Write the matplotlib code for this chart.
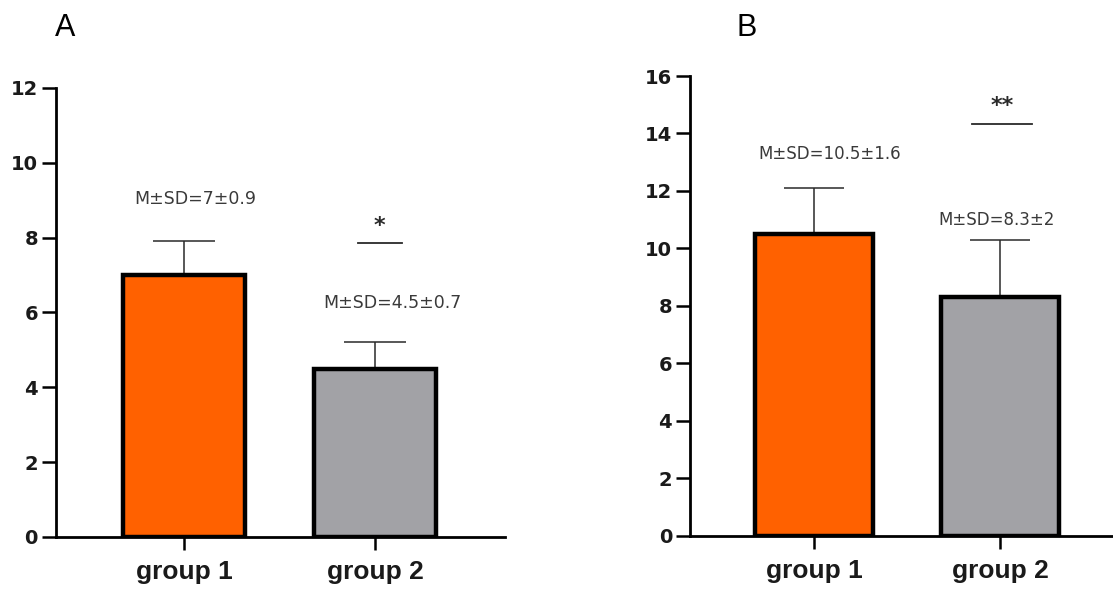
import matplotlib.pyplot as plt

groups = ['group 1', 'group 2']
means_a = [7.0, 4.5]
sd_a = [0.9, 0.7]
means_b = [10.5, 8.3]
sd_b = [1.6, 2.0]
labels_a = ['M±SD=7±0.9', 'M±SD=4.5±0.7']
labels_b = ['M±SD=10.5±1.6', 'M±SD=8.3±2']
colors = ['#ff6100', '#a2a2a6']

plt.rcParams['font.family'] = ['Liberation Sans', 'DejaVu Sans']

fig = plt.figure(figsize=(11.13, 5.91), dpi=100)
ax_a = fig.add_axes([0.0503, 0.0914, 0.4034, 0.7597])
ax_b = fig.add_axes([0.620, 0.0931, 0.380, 0.7783])


def panel(ax, means, sds, labels, ymax, xlim, capsize, lab_xy, stars, sig_x, sig_y, star_y, lab_size):
    x = list(range(len(means)))
    ax.bar(x, means, width=0.635, color=colors, edgecolor='black', linewidth=3.2, zorder=2)
    ax.errorbar(x, means, yerr=[[0] * len(sds), sds], fmt='none', ecolor='#2a2a2a',
                elinewidth=1.1, capsize=capsize, capthick=1.1, zorder=1)
    ax.set_ylim(0, ymax)
    ax.set_xlim(*xlim)
    ax.set_yticks(range(0, ymax + 1, 2))
    ax.set_xticks(x)
    ax.set_xticklabels(groups, fontsize=19, fontweight='bold', color='#1a1a1a')
    for t in ax.get_yticklabels():
        t.set_fontweight('bold')
        t.set_fontsize(14)
        t.set_family('DejaVu Sans')
        t.set_color('#1a1a1a')
    ax.spines['top'].set_visible(False)
    ax.spines['right'].set_visible(False)
    ax.spines['left'].set_linewidth(2.0)
    ax.spines['bottom'].set_linewidth(2.0)
    ax.tick_params(axis='y', length=10, width=1.8, pad=3)
    ax.tick_params(axis='x', length=9.5, width=1.8, pad=7)
    for i in x:
        ax.text(lab_xy[i][0], lab_xy[i][1], labels[i], ha='center', va='center',
                fontsize=lab_size, family='DejaVu Sans', color='#3a3a3a')
    ax.plot([sig_x[0], sig_x[1]], [sig_y, sig_y], color='#2a2a2a', lw=1.3)
    ax.text(sum(sig_x) / 2, star_y, stars, ha='center', va='center', fontsize=16,
            fontweight='bold', family='DejaVu Sans', color='#2a2a2a')


panel(ax_a, means_a, sd_a, labels_a, 12, (-0.670, 1.681), 22.5,
      [(0.058, 9.04), (1.09, 6.26)], '*', (0.911, 1.141), 7.86, 8.3, 12.5)
panel(ax_b, means_b, sd_b, labels_b, 16, (-0.667, 1.608), 21.5,
      [(0.086, 13.3), (0.984, 11.0)], '**', (0.849, 1.172), 14.33, 14.95, 12)

fig.text(65 / 1113, 1 - 28 / 591, 'A', fontsize=22, ha='center', va='center')
fig.text(747 / 1113, 1 - 28 / 591, 'B', fontsize=22, ha='center', va='center')

fig.savefig('out.png', dpi=100)
